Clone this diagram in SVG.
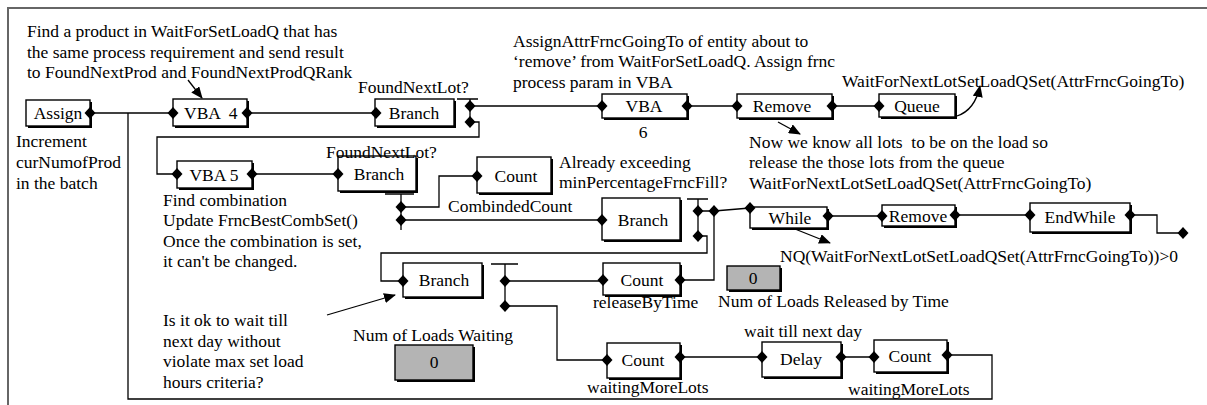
<svg xmlns="http://www.w3.org/2000/svg" xmlns:xlink="http://www.w3.org/1999/xlink" width="1207" height="405" viewBox="0 0 1207 405">
  <style>
    text { font-family: "Liberation Serif", "Times New Roman", serif; font-size: 17.5px; fill: #000; }
    .c { text-anchor: middle; }
    .pre { white-space: pre; }
    .bx { fill: #fff; stroke: #000; stroke-width: 1.4; }
    .gy { fill: #b4b4b4; stroke: #000; stroke-width: 1.4; }
    .sh { fill: #000; }
    .ln { fill: none; stroke: #000; stroke-width: 1.3; }
    .frame { fill: none; stroke: #666; stroke-width: 2; }
    .note { fill: none; stroke: #000; stroke-width: 1.3; }
  </style>
  <defs>
    <path id="d" d="M0,-6 L5.5,0 L0,6 L-5.5,0 Z" fill="#000"/>
    <marker id="ah" viewBox="0 0 12 10" refX="11" refY="5" markerWidth="12" markerHeight="10" markerUnits="userSpaceOnUse" orient="auto">
      <path d="M0,0 L12,5 L0,10 Z" fill="#000"/>
    </marker>
  </defs>

  <rect width="1207" height="405" fill="#fff"/>
  <path class="frame" d="M8,405 V8 H1207"/>

  <!-- connectors -->
  <g id="connectors">
    <path class="ln" d="M90,113 H173"/>
    <path class="ln" d="M128,113 V399 H992 V355 H947"/>
    <path class="ln" d="M247,113 H375"/>
    <path class="ln" d="M457,99 H478 M470,99 V124"/>
    <path class="ln" d="M470,106 H602"/>
    <path class="ln" d="M470,122 H479 V137 H157 V174 H177"/>
    <path class="ln" d="M252,174 H338"/>
    <path class="ln" d="M385,194 H414 M401,194 V230"/>
    <path class="ln" d="M401,207 H439 V176 H477"/>
    <path class="ln" d="M401,220 H602"/>
    <path class="ln" d="M687,199 H708 M698,199 V240"/>
    <path class="ln" d="M698,211 H714 L750,208"/>
    <path class="ln" d="M714,211 V280 H680"/>
    <path class="ln" d="M698,236 H707 V253 H381 V281 H403"/>
    <path class="ln" d="M491,264 H518 M505,264 V310"/>
    <path class="ln" d="M505,281 H603"/>
    <path class="ln" d="M505,306 H557 V360 H607"/>
    <path class="ln" d="M680,357 H762"/>
    <path class="ln" d="M841,357 H874"/>
    <path class="ln" d="M828,216 H882"/>
    <path class="ln" d="M955,215 H1030"/>
    <path class="ln" d="M1130,215 H1157 V233 H1183"/>
    <path class="ln" d="M687,106 H737"/>
    <path class="ln" d="M832,106 H879"/>
    <use href="#d" x="714" y="211"/>
    <use href="#d" x="1183" y="233"/>
    <use href="#d" x="470" y="106"/>
    <use href="#d" x="470" y="122"/>
    <use href="#d" x="401" y="207"/>
    <use href="#d" x="401" y="220"/>
    <use href="#d" x="698" y="211"/>
    <use href="#d" x="698" y="236"/>
    <use href="#d" x="505" y="281"/>
    <use href="#d" x="505" y="306"/>
  </g>

  <!-- annotation arrows -->
  <g id="notes">
    <path class="note" d="M188,80 L202,98" marker-end="url(#ah)"/>
    <path class="note" d="M778,122 L800,134" marker-end="url(#ah)"/>
    <path class="note" d="M957,116 Q975,110 980,86" marker-end="url(#ah)"/>
    <path class="note" d="M795,229 L830,243" marker-end="url(#ah)"/>
    <path class="note" d="M327,315 L395,295" marker-end="url(#ah)"/>
  </g>

  <!-- modules -->
  <g id="assign">
    <rect class="sh" x="28" y="102" width="64" height="26"/>
    <rect class="bx" x="26" y="100" width="64" height="26"/>
    <text class="c" x="58" y="119">Assign</text>
    <use href="#d" x="90" y="113"/>
  </g>
  <g id="vba4">
    <rect class="sh" x="175" y="101" width="74" height="27"/>
    <rect class="bx" x="173" y="99" width="74" height="27"/>
    <text class="pre" x="184" y="119">VBA  4</text>
    <use href="#d" x="173" y="113"/>
    <use href="#d" x="247" y="113"/>
  </g>
  <g id="branch1">
    <rect class="sh" x="377" y="101" width="79" height="27"/>
    <rect class="bx" x="375" y="99" width="79" height="27"/>
    <text class="c" x="414" y="119">Branch</text>
    <use href="#d" x="376" y="113"/>
  </g>
  <g id="vba6">
    <rect class="sh" x="604" y="96" width="85" height="24"/>
    <rect class="bx" x="602" y="94" width="85" height="24"/>
    <text class="c" x="644" y="112">VBA</text>
    <use href="#d" x="602" y="106"/>
    <use href="#d" x="687" y="106"/>
  </g>
  <g id="remove1">
    <rect class="sh" x="739" y="96" width="95" height="24"/>
    <rect class="bx" x="737" y="94" width="95" height="24"/>
    <text class="c" x="782" y="112">Remove</text>
    <use href="#d" x="737" y="106"/>
    <use href="#d" x="832" y="106"/>
  </g>
  <g id="queue">
    <rect class="sh" x="881" y="96" width="76" height="23"/>
    <rect class="bx" x="879" y="94" width="76" height="23"/>
    <text class="c" x="917" y="112">Queue</text>
    <use href="#d" x="879" y="106"/>
  </g>
  <g id="vba5">
    <rect class="sh" x="179" y="163" width="75" height="27"/>
    <rect class="bx" x="177" y="161" width="75" height="27"/>
    <text class="c" x="214" y="181">VBA 5</text>
    <use href="#d" x="177" y="174"/>
    <use href="#d" x="252" y="174"/>
  </g>
  <g id="branch2">
    <rect class="sh" x="340" y="158" width="78" height="35"/>
    <rect class="bx" x="338" y="156" width="78" height="35"/>
    <text class="c" x="379" y="180">Branch</text>
    <use href="#d" x="338" y="174"/>
  </g>
  <g id="count1">
    <rect class="sh" x="479" y="159" width="74" height="36"/>
    <rect class="bx" x="477" y="157" width="74" height="36"/>
    <text class="c" x="516" y="182">Count</text>
    <use href="#d" x="477" y="176"/>
  </g>
  <g id="branch3">
    <rect class="sh" x="604" y="200" width="78" height="42"/>
    <rect class="bx" x="602" y="198" width="78" height="42"/>
    <text class="c" x="643" y="226">Branch</text>
    <use href="#d" x="602" y="220"/>
  </g>
  <g id="while">
    <rect class="sh" x="752" y="209" width="77" height="21"/>
    <rect class="bx" x="750" y="207" width="77" height="21"/>
    <text class="c" x="790" y="224">While</text>
    <use href="#d" x="750" y="208"/>
    <use href="#d" x="828" y="216"/>
  </g>
  <g id="remove2">
    <rect class="sh" x="884" y="207" width="73" height="21"/>
    <rect class="bx" x="882" y="205" width="73" height="21"/>
    <text class="c" x="918" y="222">Remove</text>
    <use href="#d" x="882" y="216"/>
    <use href="#d" x="955" y="215"/>
  </g>
  <g id="endwhile">
    <rect class="sh" x="1032" y="205" width="100" height="29"/>
    <rect class="bx" x="1030" y="203" width="100" height="29"/>
    <text class="c" x="1080" y="223">EndWhile</text>
    <use href="#d" x="1030" y="215"/>
    <use href="#d" x="1130" y="215"/>
  </g>
  <g id="branch4">
    <rect class="sh" x="405" y="265" width="79" height="34"/>
    <rect class="bx" x="403" y="263" width="79" height="34"/>
    <text class="c" x="444" y="286">Branch</text>
    <use href="#d" x="403" y="281"/>
  </g>
  <g id="countRelease">
    <rect class="sh" x="605" y="265" width="77" height="32"/>
    <rect class="bx" x="603" y="263" width="77" height="32"/>
    <text class="c" x="642" y="286">Count</text>
    <use href="#d" x="603" y="280"/>
    <use href="#d" x="680" y="280"/>
  </g>
  <g id="count2">
    <rect class="sh" x="609" y="345" width="73" height="35"/>
    <rect class="bx" x="607" y="343" width="73" height="35"/>
    <text class="c" x="643" y="366">Count</text>
    <use href="#d" x="607" y="360"/>
    <use href="#d" x="680" y="357"/>
  </g>
  <g id="delay">
    <rect class="sh" x="764" y="344" width="79" height="35"/>
    <rect class="bx" x="762" y="342" width="79" height="35"/>
    <text class="c" x="801" y="365">Delay</text>
    <use href="#d" x="762" y="357"/>
    <use href="#d" x="841" y="357"/>
  </g>
  <g id="count3">
    <rect class="sh" x="876" y="342" width="73" height="32"/>
    <rect class="bx" x="874" y="340" width="73" height="32"/>
    <text class="c" x="910" y="362">Count</text>
    <use href="#d" x="874" y="357"/>
    <use href="#d" x="947" y="355"/>
  </g>
  <g id="releasedByTime">
    <rect class="sh" x="729" y="268" width="53" height="24"/>
    <rect class="gy" x="727" y="266" width="53" height="24"/>
    <text class="c" x="753" y="284">0</text>
  </g>
  <g id="loadsWaiting">
    <rect class="sh" x="397" y="347" width="78" height="35"/>
    <rect class="gy" x="395" y="345" width="78" height="35"/>
    <text class="c" x="434" y="368">0</text>
  </g>

  <!-- labels and comments -->
  <g id="labels">
    <text x="27" y="37">Find a product in WaitForSetLoadQ that has</text>
    <text x="27" y="57.5">the same process requirement and send result</text>
    <text x="27" y="78">to FoundNextProd and FoundNextProdQRank</text>
    <text x="16" y="147">Increment</text>
    <text x="16" y="168">curNumofProd</text>
    <text x="16" y="189">in the batch</text>
    <text x="358" y="93">FoundNextLot?</text>
    <text x="513" y="47">AssignAttrFrncGoingTo of entity about to</text>
    <text x="513" y="67">‘remove’ from WaitForSetLoadQ. Assign frnc</text>
    <text x="513" y="88">process param in VBA</text>
    <text x="842" y="87">WaitForNextLotSetLoadQSet(AttrFrncGoingTo)</text>
    <text class="c" x="643" y="138">6</text>
    <text class="pre" x="749" y="148">Now we know all lots  to be on the load so</text>
    <text x="749" y="168">release the those lots from the queue</text>
    <text x="749" y="189">WaitForNextLotSetLoadQSet(AttrFrncGoingTo)</text>
    <text x="326" y="158">FoundNextLot?</text>
    <text x="559" y="168">Already exceeding</text>
    <text x="559" y="188">minPercentageFrncFill?</text>
    <text x="163" y="206">Find combination</text>
    <text x="163" y="226">Update FrncBestCombSet()</text>
    <text x="163" y="247">Once the combination is set,</text>
    <text x="163" y="267">it can't be changed.</text>
    <text x="448" y="212">CombindedCount</text>
    <text x="780" y="262">NQ(WaitForNextLotSetLoadQSet(AttrFrncGoingTo))&gt;0</text>
    <text x="718" y="307">Num of Loads Released by Time</text>
    <text x="593" y="308">releaseByTime</text>
    <text x="163" y="326">Is it ok to wait till</text>
    <text x="163" y="347">next day without</text>
    <text x="163" y="367">violate max set load</text>
    <text x="163" y="388">hours criteria?</text>
    <text x="353" y="341">Num of Loads Waiting</text>
    <text x="744" y="337">wait till next day</text>
    <text x="587" y="393">waitingMoreLots</text>
    <text x="848" y="395">waitingMoreLots</text>
  </g>
</svg>
